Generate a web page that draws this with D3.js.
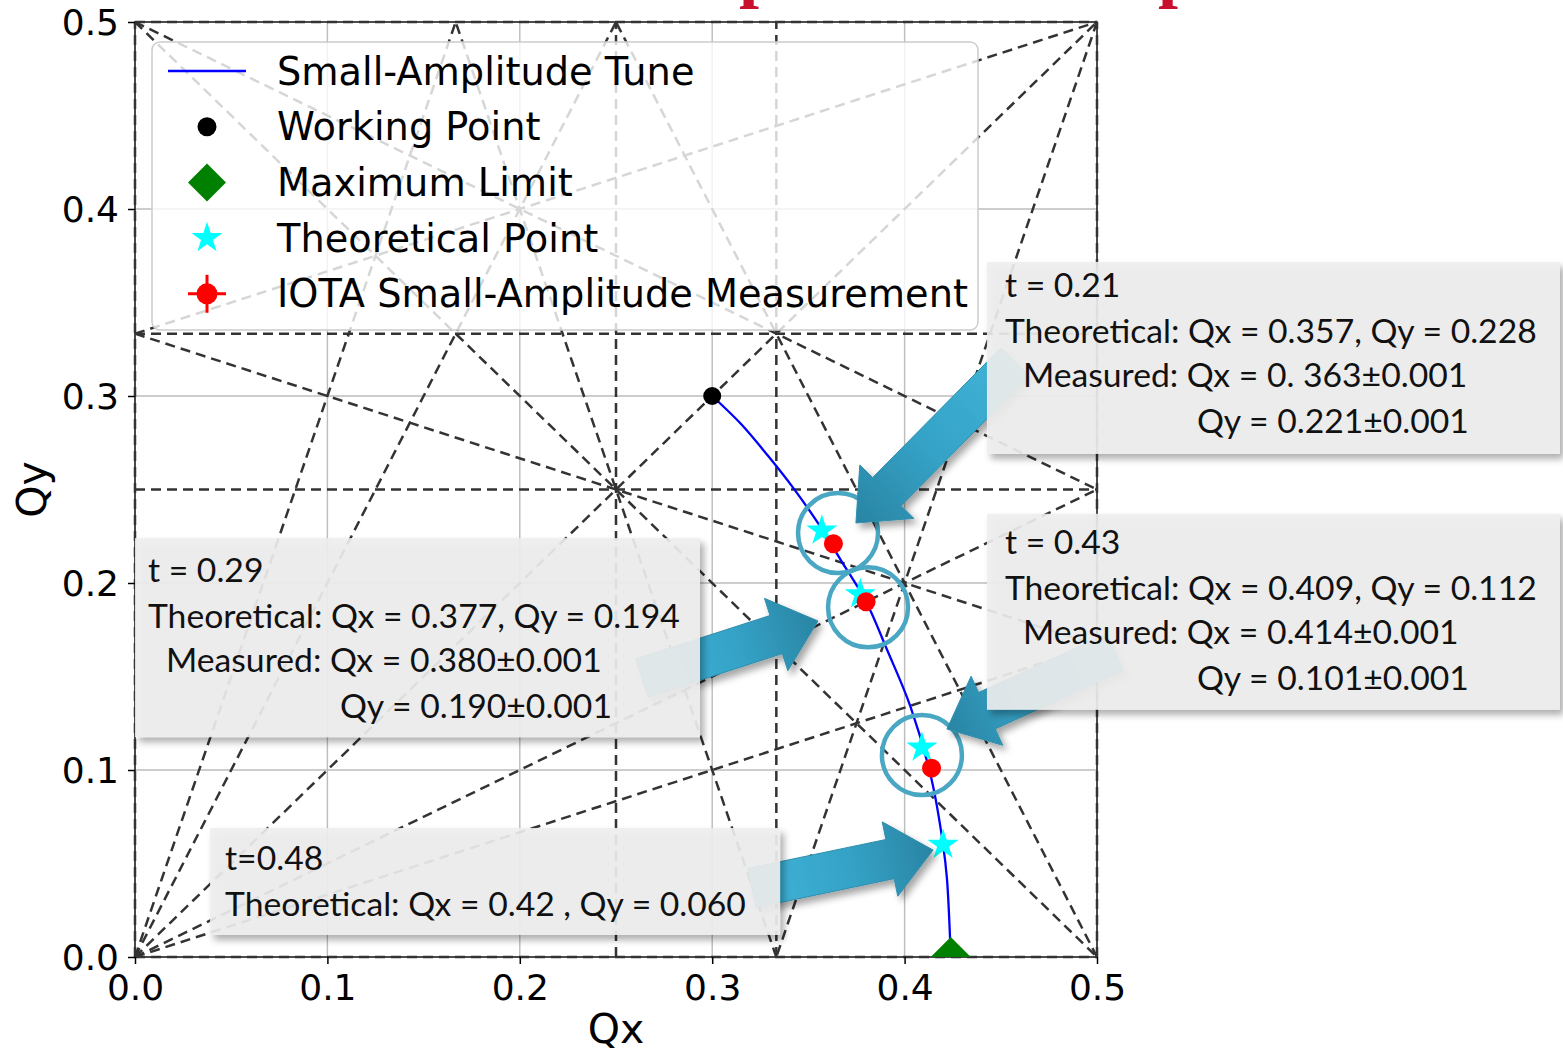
<!DOCTYPE html>
<html>
<head>
<meta charset="utf-8">
<script src="https://cdn.jsdelivr.net/npm/d3@7"></script>
<style>
  html, body { margin: 0; padding: 0; background: #ffffff; }
  svg { display: block; }
</style>
</head>
<body>
<div id="chart"></div>
<script>
// ---- Data -------------------------------------------------------------
// Small-amplitude tune path of the nonlinear lens, from the bare working
// point down to the integrable limit.
const tuneQx = [0.300, 0.315, 0.329, 0.342, 0.355, 0.367, 0.380, 0.391, 0.403, 0.414, 0.420, 0.422, 0.424];
const tuneQy = [0.300, 0.285, 0.268, 0.251, 0.232, 0.212, 0.190, 0.164, 0.134, 0.095, 0.060, 0.042, 0.000];

const workingPoint = [0.300, 0.300];
const maximumLimit = [0.424, 0.000];

const theoryT  = [0.21, 0.29, 0.43, 0.48];
const theoryQx = [0.357, 0.377, 0.409, 0.420];
const theoryQy = [0.228, 0.194, 0.112, 0.060];

const measQx  = [0.363, 0.380, 0.414];
const measQy  = [0.221, 0.190, 0.101];
const measErr = [0.001, 0.001, 0.001];

// Resonance lines m*Qx + n*Qy = p up to fourth order
const resonances = [
  [1, 0, 0], [0, 1, 0], [2, 0, 1], [0, 2, 1],
  [3, 0, 1], [0, 3, 1], [4, 0, 1], [0, 4, 1],
  [1, -1, 0], [2, 2, 1],
  [2, 1, 1], [1, 2, 1], [2, -1, 0], [1, -2, 0],
  [3, 1, 1], [1, 3, 1], [3, -1, 0], [1, -3, 0],
  [3, -1, 1], [1, -3, -1]
];

const tickValues = [0.0, 0.1, 0.2, 0.3, 0.4, 0.5];
const tickLabels = ["0.0", "0.1", "0.2", "0.3", "0.4", "0.5"];

const legendLabels = ["Small-Amplitude Tune", "Working Point", "Maximum Limit",
                      "Theoretical Point", "IOTA Small-Amplitude Measurement"];

// Callout notes: highlight circles (tune space), arrows (tail -> tip, tune space)
const circleQx = [0.3654, 0.3810, 0.4090];
const circleQy = [0.2267, 0.1870, 0.1080];

const arrowTailQx = [0.4574, 0.2635, 0.5094, 0.3207];
const arrowTailQy = [0.3182, 0.1492, 0.1631, 0.0369];
const arrowTipQx  = [0.3747, 0.3550, 0.4220, 0.4148];
const arrowTipQy  = [0.2321, 0.1797, 0.1219, 0.0572];

// Note boxes anchored at their top-left corner in tune space
const noteQx = [0.4428, 0.4428, 0.0000, 0.0390];
const noteQy = [0.3717, 0.2370, 0.2240, 0.0690];
const noteLines = [
  ["t = 0.21", "Theoretical: Qx = 0.357, Qy = 0.228", "Measured: Qx = 0. 363\u00b10.001", "Qy = 0.221\u00b10.001"],
  ["t = 0.43", "Theoretical: Qx = 0.409, Qy = 0.112", "Measured: Qx = 0.414\u00b10.001", "Qy = 0.101\u00b10.001"],
  ["t = 0.29", "Theoretical: Qx = 0.377, Qy = 0.194", "Measured: Qx = 0.380\u00b10.001", "Qy = 0.190\u00b10.001"],
  ["t=0.48", "Theoretical: Qx = 0.42 , Qy = 0.060"]
];

// ---- Layout -----------------------------------------------------------
const W = 1563, H = 1055;
const plot = { left: 135, top: 22, right: 1097, bottom: 957 };

const svg = d3.select("#chart").append("svg")
  .attr("width", W).attr("height", H)
  .attr("viewBox", `0 0 ${W} ${H}`);

const x = d3.scaleLinear().domain([0, 0.5]).range([plot.left, plot.right]);
const y = d3.scaleLinear().domain([0, 0.5]).range([plot.bottom, plot.top]);

const defs = svg.append("defs");
defs.append("clipPath").attr("id", "plotClip")
  .append("rect")
  .attr("x", plot.left).attr("y", plot.top)
  .attr("width", plot.right - plot.left).attr("height", plot.bottom - plot.top);

const shadow = defs.append("filter").attr("id", "shadow")
  .attr("x", "-20%").attr("y", "-20%").attr("width", "140%").attr("height", "140%");
shadow.append("feDropShadow")
  .attr("dx", 4).attr("dy", 5).attr("stdDeviation", 3.5)
  .attr("flood-color", "#000").attr("flood-opacity", 0.35);

// Partial slide title above the plot
svg.append("g").selectAll("text")
  .data(["p", "p"])
  .join("text")
  .attr("x", (d, i) => [739, 1158][i])
  .attr("y", -6)
  .attr("font-family", "'Liberation Serif', serif")
  .attr("font-weight", "bold")
  .attr("font-size", 72)
  .attr("fill", "#c8102e")
  .text(d => d);

// ---- Grid -------------------------------------------------------------
const grid = svg.append("g").attr("stroke", "#bcbcbc").attr("stroke-width", 1.4);
grid.selectAll("line.v").data(tickValues.slice(1, -1)).join("line")
  .attr("x1", d => x(d)).attr("x2", d => x(d))
  .attr("y1", plot.top).attr("y2", plot.bottom);
grid.selectAll("line.h").data(tickValues.slice(1, -1)).join("line")
  .attr("y1", d => y(d)).attr("y2", d => y(d))
  .attr("x1", plot.left).attr("x2", plot.right);

// ---- Resonance lines --------------------------------------------------
function resonanceSegment([m, n, p]) {
  const lo = 0, hi = 0.5, eps = 1e-9, pts = [];
  if (n !== 0) [lo, hi].forEach(qx => {
    const qy = (p - m * qx) / n;
    if (qy >= lo - eps && qy <= hi + eps) pts.push([qx, qy]);
  });
  if (m !== 0) [lo, hi].forEach(qy => {
    const qx = (p - n * qy) / m;
    if (qx >= lo - eps && qx <= hi + eps) pts.push([qx, qy]);
  });
  let best = null, bd = 1e-6;
  for (let i = 0; i < pts.length; i++)
    for (let j = i + 1; j < pts.length; j++) {
      const d = Math.hypot(pts[i][0] - pts[j][0], pts[i][1] - pts[j][1]);
      if (d > bd) { bd = d; best = [pts[i], pts[j]]; }
    }
  return best;
}
const segs = resonances.map(resonanceSegment).filter(Boolean);

// axis spines under the resonance dashes
svg.append("rect")
  .attr("x", plot.left).attr("y", plot.top)
  .attr("width", plot.right - plot.left).attr("height", plot.bottom - plot.top)
  .attr("fill", "none").attr("stroke", "#111").attr("stroke-width", 1.5);

svg.append("g")
  .attr("stroke", "#333333").attr("stroke-width", 2.5)
  .attr("stroke-dasharray", "10,6").attr("fill", "none")
  .selectAll("line").data(segs).join("line")
  .attr("x1", d => x(d[0][0])).attr("y1", d => y(d[0][1]))
  .attr("x2", d => x(d[1][0])).attr("y2", d => y(d[1][1]));

// ---- Tune curve and points -------------------------------------------
const tunePts = tuneQx.map((q, i) => [q, tuneQy[i]]);
svg.append("path")
  .datum(tunePts)
  .attr("fill", "none").attr("stroke", "#0000ff").attr("stroke-width", 2.3)
  .attr("d", d3.line().x(d => x(d[0])).y(d => y(d[1])).curve(d3.curveCatmullRom.alpha(0.5)));

const diamond = s => `M0,${-s}L${s},0L0,${s}L${-s},0Z`;

svg.append("g").attr("clip-path", "url(#plotClip)")
  .append("path")
  .attr("transform", `translate(${x(maximumLimit[0])},${y(maximumLimit[1])})`)
  .attr("d", diamond(20))
  .attr("fill", "#008000");

svg.append("circle")
  .attr("cx", x(workingPoint[0])).attr("cy", y(workingPoint[1]))
  .attr("r", 9).attr("fill", "#000");

const starPath = d3.symbol().type(d3.symbolStar).size(300)();
svg.append("g").selectAll("path")
  .data(theoryQx.map((q, i) => [q, theoryQy[i]]))
  .join("path")
  .attr("transform", d => `translate(${x(d[0])},${y(d[1])})`)
  .attr("d", starPath)
  .attr("fill", "#00ffff");

const meas = measQx.map((q, i) => ({ qx: q, qy: measQy[i], e: measErr[i] }));
const mg = svg.append("g");
mg.selectAll("line.ex").data(meas).join("line")
  .attr("x1", d => x(d.qx - d.e)).attr("x2", d => x(d.qx + d.e))
  .attr("y1", d => y(d.qy)).attr("y2", d => y(d.qy))
  .attr("stroke", "#ff0000").attr("stroke-width", 2.5);
mg.selectAll("line.ey").data(meas).join("line")
  .attr("x1", d => x(d.qx)).attr("x2", d => x(d.qx))
  .attr("y1", d => y(d.qy - d.e)).attr("y2", d => y(d.qy + d.e))
  .attr("stroke", "#ff0000").attr("stroke-width", 2.5);
mg.selectAll("circle").data(meas).join("circle")
  .attr("cx", d => x(d.qx)).attr("cy", d => y(d.qy))
  .attr("r", 9.5).attr("fill", "#ff0000");

// ---- Highlight circles ------------------------------------------------
svg.append("g").selectAll("circle")
  .data(circleQx.map((q, i) => [q, circleQy[i]]))
  .join("circle")
  .attr("cx", d => x(d[0])).attr("cy", d => y(d[1]))
  .attr("r", 40).attr("fill", "none")
  .attr("stroke", "#49a7c3").attr("stroke-width", 4.5);

// ---- Arrows -----------------------------------------------------------
function arrowPath(t, p, sw, hw, hl) {
  const dx = p[0] - t[0], dy = p[1] - t[1], L = Math.hypot(dx, dy);
  const ux = dx / L, uy = dy / L, nx = -uy, ny = ux;
  const bx = p[0] - ux * hl, by = p[1] - uy * hl;
  const pts = [
    [t[0] + nx * sw, t[1] + ny * sw],
    [bx + nx * sw, by + ny * sw],
    [bx + nx * hw, by + ny * hw],
    p,
    [bx - nx * hw, by - ny * hw],
    [bx - nx * sw, by - ny * sw],
    [t[0] - nx * sw, t[1] - ny * sw]
  ];
  return "M" + pts.map(q => q.join(",")).join("L") + "Z";
}
const arrows = arrowTailQx.map((q, i) => ({
  t: [x(q), y(arrowTailQy[i])],
  p: [x(arrowTipQx[i]), y(arrowTipQy[i])]
}));
arrows.forEach((a, i) => {
  const g = defs.append("linearGradient").attr("id", "arrowGrad" + i)
    .attr("gradientUnits", "userSpaceOnUse")
    .attr("x1", a.t[0]).attr("y1", a.t[1]).attr("x2", a.p[0]).attr("y2", a.p[1]);
  g.append("stop").attr("offset", "0%").attr("stop-color", "#40b4d8");
  g.append("stop").attr("offset", "55%").attr("stop-color", "#34a2c6");
  g.append("stop").attr("offset", "100%").attr("stop-color", "#2a84a3");
});
svg.append("g").selectAll("path").data(arrows).join("path")
  .attr("d", a => arrowPath(a.t, a.p, 20, 38, 44))
  .attr("fill", (a, i) => `url(#arrowGrad${i})`)
  .attr("stroke", "#2f8eac").attr("stroke-width", 1)
  .attr("filter", "url(#shadow)");

// ---- Note boxes -------------------------------------------------------
const noteSize = [[573, 192], [573, 196], [565, 199], [570, 107]];
const noteIndent = [19, 19, 36, 211];
const noteBase = [35, 81, 125, 171];
const noteShift = [[5, 0], [5, 5], [0, 9], [0, 7]];
const notes = svg.append("g");
noteLines.forEach((lines, i) => {
  const bx = x(noteQx[i]), by = y(noteQy[i]);
  const g = notes.append("g").attr("transform", `translate(${bx},${by})`);
  g.append("rect")
    .attr("width", noteSize[i][0]).attr("height", noteSize[i][1])
    .attr("fill", "#eeeeee").attr("fill-opacity", 0.9)
    .attr("filter", "url(#shadow)");
  g.selectAll("text").data(lines).join("text")
    .attr("x", (d, j) => (i === 3 ? 15 : [13, 13, 31, 205][j]) + noteShift[i][0])
    .attr("y", (d, j) => noteBase[j] + noteShift[i][1])
    .attr("font-family", "Lato, 'Open Sans', sans-serif")
    .attr("font-size", 33.7)
    .attr("fill", "#111")
    .text(d => d);
});

// ---- Legend -----------------------------------------------------------
const leg = svg.append("g").attr("transform", "translate(152,42)");
leg.append("rect")
  .attr("width", 826).attr("height", 288).attr("rx", 8)
  .attr("fill", "#ffffff").attr("fill-opacity", 0.8)
  .attr("stroke", "#cccccc").attr("stroke-width", 1.5);
const rowY = i => 29 + i * 55.7;
const mx = 55;
leg.append("line")
  .attr("x1", 16).attr("x2", 94).attr("y1", rowY(0)).attr("y2", rowY(0))
  .attr("stroke", "#0000ff").attr("stroke-width", 2.3);
leg.append("circle").attr("cx", mx).attr("cy", rowY(1)).attr("r", 9.5).attr("fill", "#000");
leg.append("path").attr("transform", `translate(${mx},${rowY(2)})`)
  .attr("d", diamond(19)).attr("fill", "#008000");
leg.append("path").attr("transform", `translate(${mx},${rowY(3)})`)
  .attr("d", starPath).attr("fill", "#00ffff");
const lr = leg.append("g").attr("transform", `translate(${mx},${rowY(4)})`);
lr.append("line").attr("x1", -19).attr("x2", 19).attr("stroke", "#ff0000").attr("stroke-width", 3);
lr.append("line").attr("y1", -19).attr("y2", 19).attr("stroke", "#ff0000").attr("stroke-width", 3);
lr.append("circle").attr("r", 10.5).attr("fill", "#ff0000");
leg.selectAll("text").data(legendLabels).join("text")
  .attr("x", 125).attr("y", (d, i) => rowY(i) + 13.5)
  .attr("font-family", "'DejaVu Sans', sans-serif")
  .attr("font-size", 38.3)
  .attr("fill", "#000")
  .text(d => d);

// ---- Axes -------------------------------------------------------------
const fmt = (d, i) => tickLabels[i];
const xAxis = svg.append("g")
  .attr("transform", `translate(0,${plot.bottom})`)
  .call(d3.axisBottom(x).tickValues(tickValues).tickFormat(fmt).tickSize(7).tickPadding(10));
const yAxis = svg.append("g")
  .attr("transform", `translate(${plot.left},0)`)
  .call(d3.axisLeft(y).tickValues(tickValues).tickFormat(fmt).tickSize(7).tickPadding(9));
[xAxis, yAxis].forEach(a => {
  a.select(".domain").remove();
  a.selectAll(".tick line").attr("stroke", "#000").attr("stroke-width", 1.5);
  a.selectAll(".tick text")
    .attr("font-family", "'DejaVu Sans', sans-serif")
    .attr("font-size", 36).attr("fill", "#000");
});
yAxis.selectAll(".tick text").attr("dy", "0.36em");

svg.append("text")
  .attr("x", (plot.left + plot.right) / 2).attr("y", 1043)
  .attr("text-anchor", "middle")
  .attr("font-family", "'DejaVu Sans', sans-serif").attr("font-size", 41)
  .text("Qx");
svg.append("text")
  .attr("transform", `translate(46,${(plot.top + plot.bottom) / 2}) rotate(-90)`)
  .attr("text-anchor", "middle")
  .attr("font-family", "'DejaVu Sans', sans-serif").attr("font-size", 41)
  .text("Qy");
</script>
</body>
</html>
